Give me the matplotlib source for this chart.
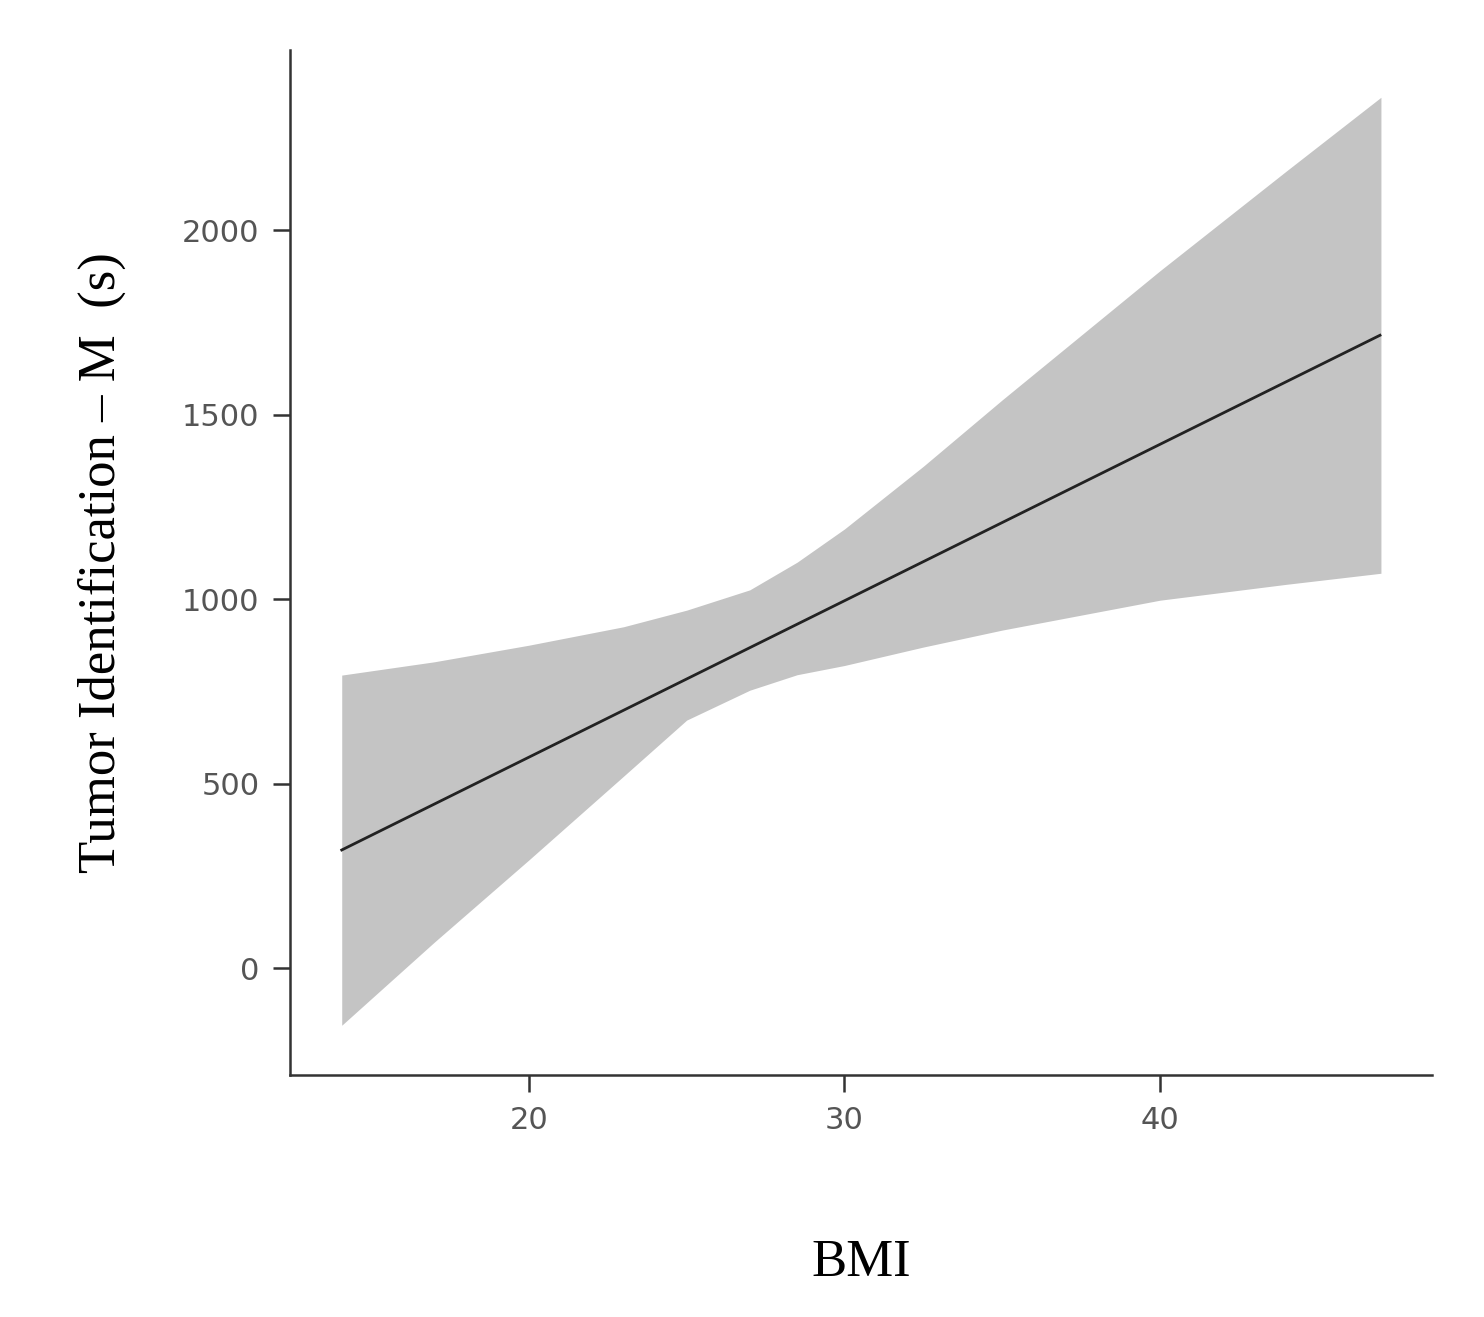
import matplotlib
matplotlib.use("Agg")
import matplotlib.pyplot as plt

bmi = [14.07, 17, 20, 23, 25, 27, 28.5, 30, 32.5, 35, 40, 44, 47]
upper = [794, 830, 875, 925, 970, 1025, 1100, 1190, 1360, 1540, 1890, 2160, 2360]
lower = [-155, 70, 293, 520, 672, 753, 795, 820, 870, 916, 997, 1040, 1070]
line_x = [14.07, 46.97]
line_y = [320, 1715]
xticks = [20, 30, 40]
yticks = [0, 500, 1000, 1500, 2000]

fig = plt.figure(figsize=(14.84, 13.17), dpi=100)
ax = fig.add_axes([0.1954, 0.1837, 0.7696, 0.7783])
ax.fill_between(bmi, lower, upper, color="#c4c4c4", linewidth=0)
ax.plot(line_x, line_y, color="#222222", linewidth=2)
ax.set_xlim(12.43, 48.62)
ax.set_ylim(-290, 2488)
ax.set_xticks(xticks)
ax.set_yticks(yticks)
for s in ["top", "right"]:
    ax.spines[s].set_visible(False)
for s in ["left", "bottom"]:
    ax.spines[s].set_color("#333333")
    ax.spines[s].set_linewidth(1.8)
ax.tick_params(length=12, width=1.8, color="#333333", labelsize=22,
               labelcolor="#555555", pad=10)
ax.set_xlabel("BMI", family="Liberation Serif", fontsize=38, labelpad=75)
ax.set_ylabel("Tumor Identification – M  (s)", family="Liberation Serif",
              fontsize=38, labelpad=40)
fig.savefig("out.png", dpi=100)
